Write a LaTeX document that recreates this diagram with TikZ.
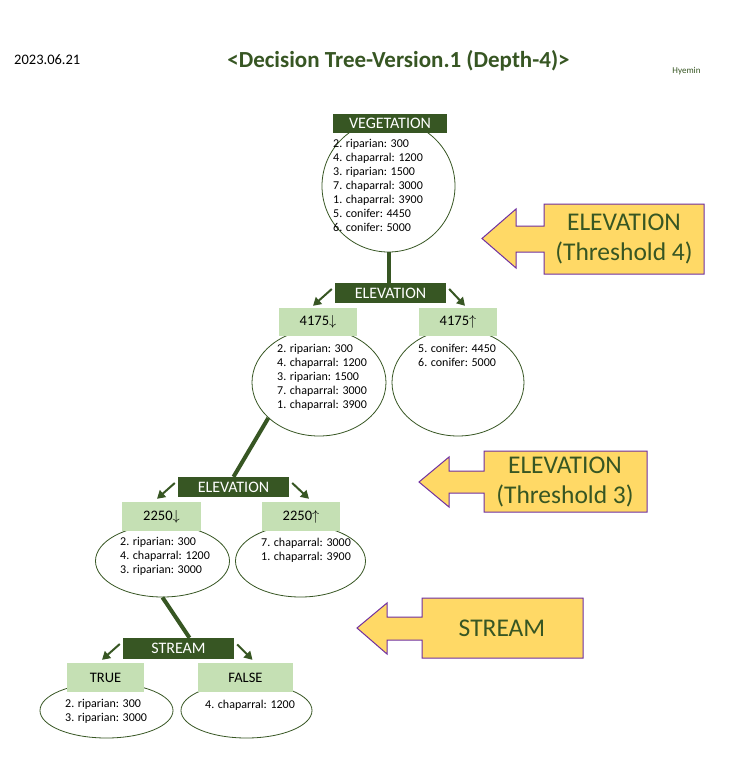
\documentclass[tikz,border=0pt]{standalone}
\usepackage{fontspec}
\setmainfont{Carlito}
\usetikzlibrary{arrows.meta,shapes.geometric}
\definecolor{DarkGreen}{HTML}{375623}
\definecolor{PaleGreen}{HTML}{C5E0B4}
\definecolor{Gold}{HTML}{FFD966}
\definecolor{Violet}{HTML}{7030A0}

\begin{document}
\begin{tikzpicture}[
  x=1pt, y=-1pt,
  split/.style={
    fill=DarkGreen, 
    text=white, 
    font=\fontsize{16}{18}\selectfont, 
    inner sep=0pt, 
    minimum width=111pt,
    minimum height=20pt
  },
  tag/.style={fill=PaleGreen, font=\fontsize{14.5}{16}\selectfont, inner sep=0pt, minimum height=28pt},
  leaf/.style={ellipse, draw=DarkGreen, fill=white, line width=0.8pt, inner sep=0pt},
  items/.style={anchor=north west, align=left, inner sep=0pt, font=\fontsize{12}{14}\selectfont},
  trunk/.style={draw=DarkGreen, line width=4pt},
  arr/.style={-{Triangle[length=8pt,width=9pt]}, line width=2pt, draw=DarkGreen},
  callout/.style={fill=Gold, draw=Violet, line width=1pt},
  calltext/.style={align=center, text=DarkGreen, font=\fontsize{25.5}{30}\selectfont}
]
\useasboundingbox[fill=white] (0,0) rectangle (754,782);

% header
\node[anchor=base west, inner sep=0pt, font=\fontsize{14.5}{16}\selectfont] (date) at (14,64) {2023.06.21};
\node[anchor=base, inner sep=0pt, text=DarkGreen, font=\bfseries\fontsize{23}{26}\selectfont] (title) at (398.5,67) {<Decision Tree-Version.1 (Depth-4)>};
\node[inner sep=0pt, text=DarkGreen, font=\fontsize{9}{10}\selectfont] (author) at (686.5,71) {Hyemin};

% leaves
\node[leaf, minimum width=133pt, minimum height=132pt] (e0) at (388.5,186) {};
\node[leaf, minimum width=134pt, minimum height=107pt] (e1a) at (319,382.5) {};
\node[leaf, minimum width=132pt, minimum height=107pt] (e1b) at (458,382.5) {};
\node[leaf, minimum width=134pt, minimum height=72pt] (e2a) at (162.5,561) {};
\node[leaf, minimum width=130pt, minimum height=72pt] (e2b) at (300.5,561) {};
\node[leaf, minimum width=133pt, minimum height=55pt] (e3a) at (106.5,710.5) {};
\node[leaf, minimum width=131pt, minimum height=55pt] (e3b) at (246.5,710.5) {};

% splits
\node[split, minimum width=114pt, minimum height=19pt] (s0) at (390,123.5) {VEGETATION};
\node[split] (s1) at (390.5,293) {ELEVATION};
\node[split] (s2) at (233.5,487) {ELEVATION};
\node[split, minimum height=21pt] (s3) at (178.5,648.5) {STREAM};

\draw[trunk] (e0.south) -- (e0.south |- s1.north);
\draw[trunk] (e1a.215) -- (s2.north);
\draw[trunk] (e2a.south) -- ([xshift=11pt]s3.north);

% branch tags
\node[tag, minimum width=78pt] (l1a) at (318,322) {4175$\downarrow$};
\node[tag, minimum width=78pt] (l1b) at (458,322) {4175$\uparrow$};
\node[tag, minimum width=79pt, minimum height=29pt] (l2a) at (161.5,516.5) {2250$\downarrow$};
\node[tag, minimum width=78pt, minimum height=29pt] (l2b) at (301,516.5) {2250$\uparrow$};
\node[tag, minimum width=77pt, minimum height=29pt] (l3a) at (105.5,677.5) {TRUE};
\node[tag, minimum width=95pt, minimum height=29pt] (l3b) at (245.5,677.5) {FALSE};

\draw[arr] ([shift={(-3,-4)}]s1.west) -- ([shift={(-5,-2)}]l1a.north);
\draw[arr] ([shift={(3,-4)}]s1.east) -- ([shift={(7,-2)}]l1b.north);
\draw[arr] ([shift={(-3,-4)}]s2.west) -- ([shift={(-4.5,-3)}]l2a.north);
\draw[arr] ([shift={(3,-4)}]s2.east) -- ([shift={(8,-3)}]l2b.north);
\draw[arr] ([shift={(-3,-4.5)}]s3.west) -- ([shift={(-3.5,-3)}]l3a.north);
\draw[arr] ([shift={(3,-4)}]s3.east) -- ([shift={(7,-3)}]l3b.north);

% samples
\node[items] (t0) at (333,139.5) {2. riparian: 300\\4. chaparral: 1200\\3. riparian: 1500\\7. chaparral: 3000\\1. chaparral: 3900\\5. conifer: 4450\\6. conifer: 5000};
\node[items] (t1a) at (277,344.5) {2. riparian: 300\\4. chaparral: 1200\\3. riparian: 1500\\7. chaparral: 3000\\1. chaparral: 3900};
\node[items] (t1b) at (418,344.5) {5. conifer: 4450\\6. conifer: 5000};
\node[items] (t2a) at (120,537.5) {2. riparian: 300\\4. chaparral: 1200\\3. riparian: 3000};
\node[items] (t2b) at (261,537.5) {7. chaparral: 3000\\1. chaparral: 3900};
\node[items] (t3a) at (65,699.5) {2. riparian: 300\\3. riparian: 3000};
\node[items] (t3b) at (205,699.5) {4. chaparral: 1200};

% callouts
\draw[callout] (544,204) -- (704,204) -- (704,274) -- (544,274) -- (544,252) -- (516,252) -- (516,268)
  -- (482,238.5) -- (516,209) -- (516,226) -- (544,226) -- cycle;
\node[calltext] (c1) at (624,239) {ELEVATION\\(Threshold 4)};
\draw[callout] (484,451) -- (647,451) -- (647,512) -- (484,512) -- (484,493) -- (449,493) -- (449,507)
  -- (419,482) -- (449,457) -- (449,471) -- (484,471) -- cycle;
\node[calltext] (c2) at (565,482) {ELEVATION\\(Threshold 3)};
\draw[callout] (422,598) -- (583,598) -- (583,658) -- (422,658) -- (422,640) -- (387,640) -- (387,654)
  -- (357,628) -- (387,603) -- (387,617) -- (422,617) -- cycle;
\node[calltext] (c3) at (502,628) {STREAM};
\end{tikzpicture}
\end{document}
